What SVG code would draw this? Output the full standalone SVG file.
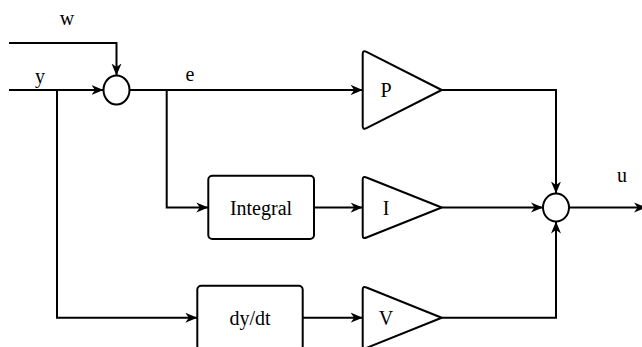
<svg xmlns="http://www.w3.org/2000/svg" width="642" height="347" viewBox="0 0 642 347">
  <style>
    .ln { fill: none; stroke: #000; stroke-width: 2; }
    .shape { fill: #fff; stroke: #000; stroke-width: 2; stroke-linejoin: round; }
    .lbl { font-family: "Liberation Serif", "Times New Roman", serif; font-size: 20px; fill: #000; text-anchor: middle; dominant-baseline: central; }
  </style>
  <defs>
    <marker id="arr" markerUnits="userSpaceOnUse" markerWidth="13" markerHeight="11" refX="12" refY="5.5" orient="auto">
      <path d="M0,0.5 L12,5.5 L0,10.5 L3.5,5.5 Z" fill="#000"/>
    </marker>
  </defs>
  <rect width="642" height="347" fill="#fff"/>

  <!-- connectors -->
  <g id="connectors">
    <polyline class="ln" points="9,43 116.5,43 116.5,75.5" marker-end="url(#arr)"/>
    <polyline class="ln" points="9,90 103.5,90" marker-end="url(#arr)"/>
    <polyline class="ln" points="129.5,90 362.7,90" marker-end="url(#arr)"/>
    <polyline class="ln" points="166.7,90 166.7,207.5 208.3,207.5" marker-end="url(#arr)"/>
    <polyline class="ln" points="57,90 57,317.7 197.3,317.7" marker-end="url(#arr)"/>
    <polyline class="ln" points="314,207.5 362.7,207.5" marker-end="url(#arr)"/>
    <polyline class="ln" points="302.7,317.7 362.7,317.7" marker-end="url(#arr)"/>
    <polyline class="ln" points="441.7,90 556,90 556,193.5" marker-end="url(#arr)"/>
    <polyline class="ln" points="441.7,207.5 543,207.5" marker-end="url(#arr)"/>
    <polyline class="ln" points="441.7,317.7 556,317.7 556,221.5" marker-end="url(#arr)"/>
    <polyline class="ln" points="569,207.5 646,207.5" marker-end="url(#arr)"/>
  </g>

  <!-- signal labels -->
  <text class="lbl" x="67" y="18">w</text>
  <text class="lbl" x="40" y="76">y</text>
  <text class="lbl" x="190" y="74">e</text>
  <text class="lbl" x="622" y="175">u</text>

  <!-- summing junctions -->
  <g id="sum1">
    <ellipse class="shape" cx="116.5" cy="90" rx="13" ry="14.5"/>
  </g>
  <g id="sum2">
    <ellipse class="shape" cx="556" cy="207.5" rx="13" ry="14"/>
  </g>

  <!-- gain blocks -->
  <g id="gainP">
    <path class="shape" d="M362.7,54 Q362.7,50 366.5,51.8 L441.7,90 L366.5,128.2 Q362.7,130 362.7,126 Z"/>
    <text class="lbl" x="386" y="90">P</text>
  </g>
  <g id="gainI">
    <path class="shape" d="M362.7,179.5 Q362.7,175.7 366.5,177.5 L441.7,207.5 L366.5,237.5 Q362.7,239.3 362.7,235.5 Z"/>
    <text class="lbl" x="386" y="207.5">I</text>
  </g>
  <g id="gainV">
    <path class="shape" d="M362.7,289.5 Q362.7,285.7 366.5,287.5 L441.7,317.7 L366.5,347.9 Q362.7,349.7 362.7,345.9 Z"/>
    <text class="lbl" x="386" y="317.7">V</text>
  </g>

  <!-- processing blocks -->
  <g id="integral">
    <rect class="shape" x="208.3" y="175.7" width="105.7" height="63.3" rx="4"/>
    <text class="lbl" x="261" y="207.5">Integral</text>
  </g>
  <g id="derivative">
    <rect class="shape" x="197.3" y="285.7" width="105.4" height="64" rx="4"/>
    <text class="lbl" x="250" y="317.7">dy/dt</text>
  </g>
</svg>
